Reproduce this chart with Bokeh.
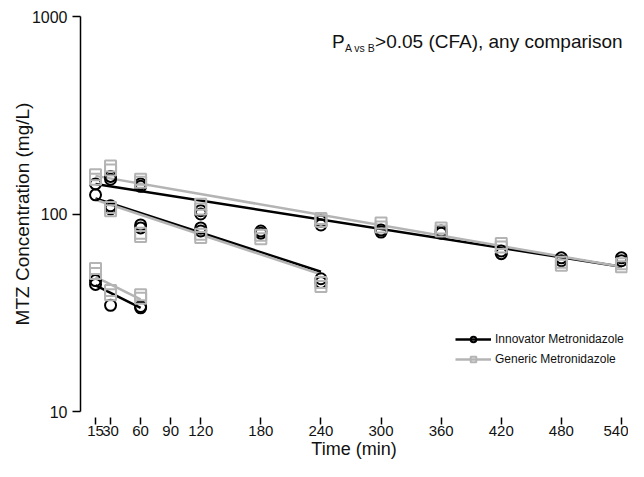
from bokeh.plotting import figure
from bokeh.models import FixedTicker, Label, Legend, LegendItem, Range1d, PrintfTickFormatter
from bokeh.embed import file_html
from bokeh.resources import INLINE

# ---- data ----
innov_t = [15, 15, 15, 15,
           30, 30, 30, 30, 30,
           60, 60, 60, 60, 60, 60,
           120, 120, 120, 120,
           180, 180,
           240, 240, 240, 240,
           300, 300, 360, 360, 420, 420, 480, 480, 540, 540]
innov_c = [142, 125, 46, 44,
           155, 150, 110, 106, 34.5,
           142, 138, 88, 85, 34, 33.5,
           104, 100, 85, 82,
           82, 80,
           92, 88, 47, 45,
           83, 81, 82, 80, 65, 63, 60, 58, 60, 58]

gen_t = [15, 15, 15, 15,
         30, 30, 30, 30, 30, 30,
         60, 60, 60, 60, 60, 60,
         120, 120, 120, 120,
         180, 180,
         240, 240, 240, 240,
         300, 300, 360, 360, 420, 420, 480, 480, 540, 540]
gen_c = [158, 150, 53, 50,
         175, 167, 108, 104, 41, 39,
         150, 145, 80, 77, 39, 37.5,
         112, 106, 79, 76,
         78, 75,
         95, 92, 45, 43,
         90, 86, 85, 82, 71, 68, 57, 55, 56, 54]

# fitted regression lines (three phases)
innov_fit_t = [[15, 540], [15, 240], [15, 60]]
innov_fit_c = [[142, 54], [120, 51], [43.5, 33.5]]
gen_fit_t = [[15, 540], [15, 240], [15, 60]]
gen_fit_c = [[156, 54], [118, 49.5], [48, 37]]

x_ticks = [15, 30, 60, 90, 120, 180, 240, 300, 360, 420, 480, 540]
y_ticks = [10, 100, 1000]

FONT = "Liberation Sans"
BLACK = "#000000"
GRAY = "#b4b4b4"
TXT = "#111111"

p = figure(width=628, height=461, x_range=Range1d(0, 546), y_range=Range1d(10, 1000),
           y_axis_type="log", output_backend="svg", toolbar_location=None,
           min_border_left=80, min_border_right=1, min_border_top=16, min_border_bottom=50)
p.outline_line_color = None
p.grid.visible = False
p.background_fill_color = "white"

# lines
l_innov = p.multi_line(innov_fit_t, innov_fit_c, line_color=BLACK, line_width=2.5)
l_gen = p.multi_line(gen_fit_t, gen_fit_c, line_color=GRAY, line_width=2.5)

s_innov = p.scatter(innov_t, innov_c, marker="circle", size=11, fill_color=None,
                    line_color=BLACK, line_width=2)
s_gen = p.scatter(gen_t, gen_c, marker="square", size=11, fill_color=None,
                  line_color=GRAY, line_width=2)

# axes
xa = p.xaxis[0]
xa.ticker = FixedTicker(ticks=x_ticks, minor_ticks=[])
xa.axis_line_color = None
xa.major_tick_in = -6
xa.major_tick_out = 13
xa.major_tick_line_width = 1.5
xa.major_label_standoff = 1
xa.major_label_text_font = FONT
xa.major_label_text_font_size = "15px"
xa.major_label_text_color = TXT
xa.axis_label = "Time (min)"
xa.axis_label_text_font = FONT
xa.axis_label_text_font_size = "18px"
xa.axis_label_text_font_style = "normal"
xa.axis_label_text_color = TXT
xa.axis_label_standoff = 0

ya = p.yaxis[0]
ya.ticker = FixedTicker(ticks=y_ticks, minor_ticks=[])
ya.formatter = PrintfTickFormatter(format="%d")
ya.axis_line_width = 1.5
ya.major_tick_in = 0
ya.major_tick_out = 8
ya.major_tick_line_width = 1.5
ya.major_label_standoff = 5
ya.major_label_text_font = FONT
ya.major_label_text_font_size = "16px"
ya.major_label_text_color = TXT
ya.axis_label = "MTZ Concentration (mg/L)"
ya.axis_label_text_font = FONT
ya.axis_label_text_font_size = "19px"
ya.axis_label_text_font_style = "normal"
ya.axis_label_text_color = TXT
ya.axis_label_standoff = -4

# annotation with subscript
p.add_layout(Label(x=251, y=746, text="P", text_font=FONT, text_font_size="19px",
                   text_baseline="alphabetic", text_color=TXT))
p.add_layout(Label(x=264, y=695, text="A vs B", text_font=FONT, text_font_size="10.5px",
                   text_baseline="alphabetic", text_color=TXT))
p.add_layout(Label(x=294, y=746, text=">0.05 (CFA), any comparison", text_font=FONT,
                   text_font_size="19px", text_baseline="alphabetic", text_color=TXT))

legend = Legend(items=[
    LegendItem(label="Innovator Metronidazole", renderers=[l_innov, s_innov]),
    LegendItem(label="Generic Metronidazole", renderers=[l_gen, s_gen]),
], location=(375, 45))
legend.label_text_font = FONT
legend.label_text_font_size = "12px"
legend.label_text_color = TXT
legend.glyph_width = 36
legend.glyph_height = 14
legend.label_standoff = 4
legend.spacing = 6
legend.padding = 0
legend.margin = 0
legend.border_line_color = None
legend.background_fill_alpha = 0
p.add_layout(legend)

open("out.html", "w").write(file_html(p, INLINE))
